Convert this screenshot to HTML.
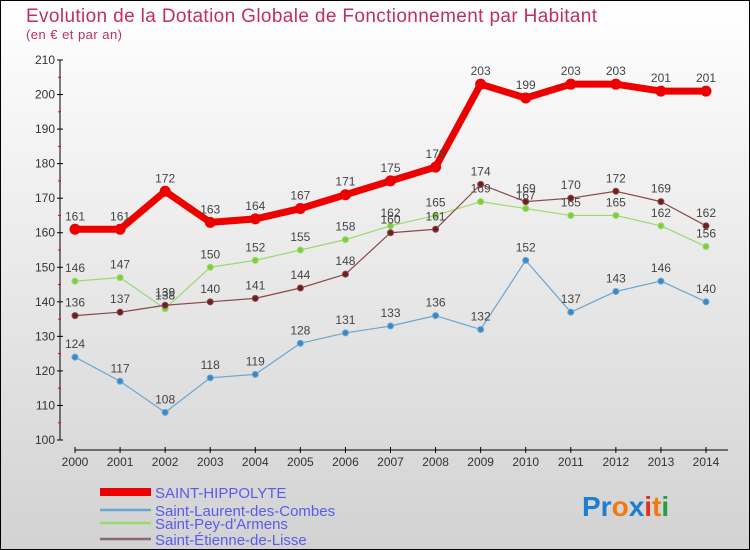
<!DOCTYPE html>
<html><head><meta charset="utf-8"><style>
html,body{margin:0;padding:0}
body{width:750px;height:550px;overflow:hidden;font-family:"Liberation Sans","DejaVu Sans",sans-serif}
svg{display:block}
</style></head><body>
<svg id="c" width="750" height="550" xmlns="http://www.w3.org/2000/svg">
<defs><linearGradient id="bg" x1="0" y1="0" x2="0" y2="1"><stop offset="0" stop-color="#ffffff"/><stop offset="1" stop-color="#d2d2d2"/></linearGradient></defs>
<rect x="0.5" y="0.5" width="749" height="549" fill="url(#bg)" stroke="#000"/>
<text x="26" y="22" font-size="19" fill="#c0305a" textLength="571">Evolution de la Dotation Globale de Fonctionnement par Habitant</text>
<text x="26" y="39" font-size="13" fill="#c0305a" textLength="96">(en € et par an)</text>
<g id="axes"></g><g id="series"></g><g id="legend"></g>
<text x="582" y="516" font-size="28" font-weight="bold"><tspan fill="#1a7fd0">Pr</tspan><tspan fill="#f07a10">o</tspan><tspan fill="#1a7fd0">x</tspan><tspan fill="#e03020">i</tspan><tspan fill="#f07a10">t</tspan><tspan fill="#20a040">i</tspan></text>
</svg>
<script>
const years=[2000,2001,2002,2003,2004,2005,2006,2007,2008,2009,2010,2011,2012,2013,2014];
const yTicks=[100,110,120,130,140,150,160,170,180,190,200,210];
const hippolyte=[161,161,172,163,164,167,171,175,179,203,199,203,203,201,201];
const laurent=[124,117,108,118,119,128,131,133,136,132,152,137,143,146,140];
const pey=[146,147,138,150,152,155,158,162,165,169,167,165,165,162,156];
const etienne=[136,137,139,140,141,144,148,160,161,174,169,170,172,169,162];
const names=["SAINT-HIPPOLYTE","Saint-Laurent-des-Combes","Saint-Pey-d'Armens","Saint-Étienne-de-Lisse"];
const NS="http://www.w3.org/2000/svg";
function X(i){return 75+i*(706-75)/14;}
function Y(v){return 440-(v-100)*(380/110);}
function mk(t,a,p){const e=document.createElementNS(NS,t);for(const k in a)e.setAttribute(k,a[k]);p.appendChild(e);return e;}
const ax=document.getElementById('axes');
let l=mk('line',{x1:60,y1:Y(210),x2:60,y2:Y(100),stroke:'#000'},ax);


yTicks.forEach(v=>{mk('line',{x1:57,y1:Y(v),x2:63,y2:Y(v),stroke:'#000'},ax);
 const t=mk('text',{x:55,y:Y(v)+4,'font-size':12,fill:'#333','text-anchor':'end'},ax);t.textContent=v;
 
 
 if(v<210)mk('line',{x1:58,y1:Y(v+5),x2:61,y2:Y(v+5),stroke:'#e00'},ax);});
l=mk('line',{x1:75,y1:450,x2:728,y2:450,stroke:'#000'},ax);


years.forEach((y,i)=>{mk('line',{x1:X(i),y1:447,x2:X(i),y2:453,stroke:'#000'},ax);
 const t=mk('text',{x:X(i),y:466,'font-size':12,fill:'#333','text-anchor':'middle'},ax);t.textContent=y;
 
 });
const sg=document.getElementById('series');
function series(d,col,w,r,dot,name){
 const g=mk('g',{},sg);
 
 
 mk('polyline',{points:d.map((v,i)=>X(i)+','+Y(v)).join(' '),fill:'none',stroke:col,'stroke-width':w,'stroke-linejoin':'round'},g);
 d.forEach((v,i)=>{const c=mk('circle',{cx:X(i),cy:Y(v),r:r,fill:dot,stroke:col,'stroke-width':1},g);
  
  
  const t=mk('text',{x:X(i),y:Y(v)-9,'font-size':12,fill:'#444','text-anchor':'middle'},g);t.textContent=v;
  
  });
}
series(laurent,'#6aa6d0',1.2,3,'#3a88c8','series-laurent');
series(pey,'#9ada6a',1.2,3,'#80cc40','series-pey');
series(etienne,'#8a4848',1.2,3,'#6a2020','series-etienne');
series(hippolyte,'#ee0000',7,5,'#ee0000','series-hippolyte');
const lg=document.getElementById('legend');
const cols=['#ee0000','#6aa6d0','#9ada6a','#8a6a6a'],ws=[8,2.5,2.5,2.5],ys=[492,510,523,539];
names.forEach((n,i)=>{const g=mk('g',{},lg);
 
 
 mk('line',{x1:100,y1:ys[i],x2:151,y2:ys[i],stroke:cols[i],'stroke-width':ws[i]},g);
 const t=mk('text',{x:155,y:ys[i]+6,'font-size':15,fill:'#5a5aee'},g);t.textContent=n;});
</script>
</body></html>
